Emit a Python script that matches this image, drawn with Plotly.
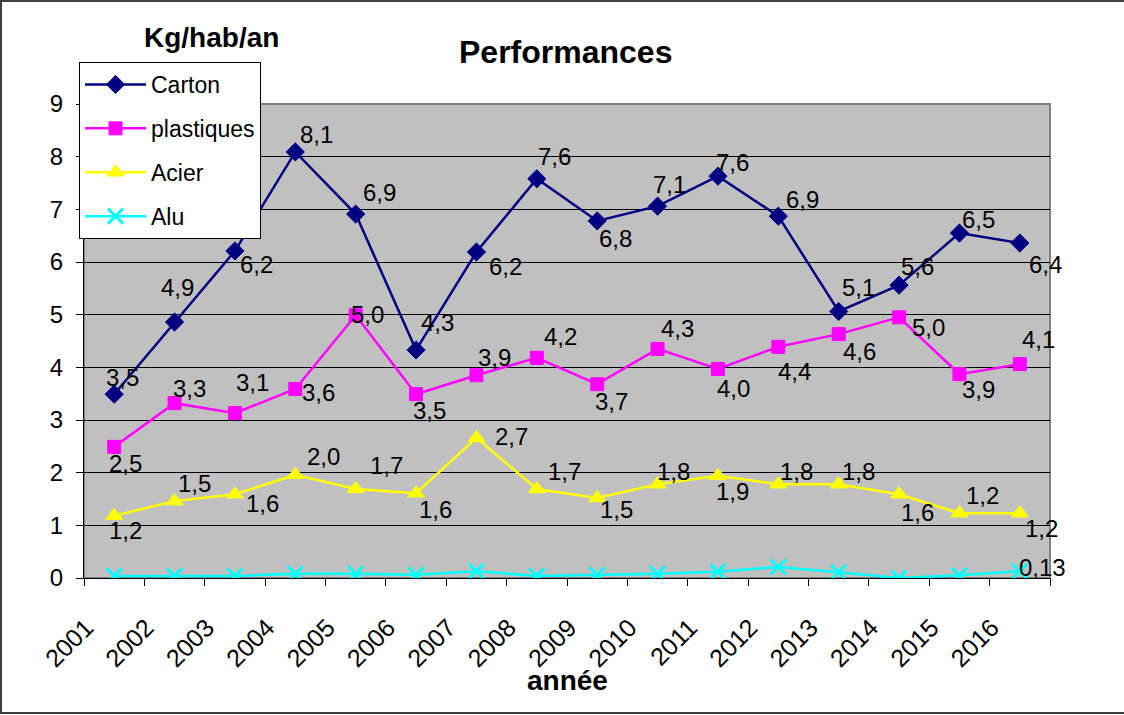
import plotly.graph_objects as go

years = [str(y) for y in range(2001, 2017)]
carton = [3.49, 4.86, 6.21, 8.09, 6.91, 4.33, 6.19, 7.58, 6.78, 7.06, 7.63, 6.87, 5.06, 5.56, 6.55, 6.36]
plastiques = [2.49, 3.32, 3.13, 3.59, 4.99, 3.49, 3.85, 4.18, 3.68, 4.35, 3.97, 4.39, 4.63, 4.95, 3.87, 4.06]
acier = [1.18, 1.46, 1.59, 1.96, 1.69, 1.61, 2.66, 1.69, 1.52, 1.78, 1.94, 1.78, 1.78, 1.59, 1.23, 1.23]
alu = [0.04, 0.04, 0.04, 0.08, 0.08, 0.06, 0.13, 0.04, 0.06, 0.08, 0.12, 0.21, 0.11, 0.0, 0.05, 0.13]

# label offsets in pixels (dx right, dy down) relative to each point
carton_off = [(8, -17), (3, -35), (22, 14), (21, -17), (24, -22), (21, -27), (29, 15), (18, -22),
              (18, 18), (12, -22), (15, -14), (24, -17), (20, -24), (18, -19), (19, -14), (26, 21)]
plast_off = [(11, 17), (15, -15), (18, -31), (23, 4), (12, -1), (13, 16), (18, -18), (24, -21),
             (14, 17), (20, -20), (16, 20), (16, 25), (21, 17), (29, 10), (19, 15), (19, -25)]
acier_off = [(11, 15), (20, -18), (28, 9), (28, -18), (31, -23), (19, 16), (35, -1), (28, -17),
             (19, 12), (16, -13), (15, 16), (18, -13), (20, -13), (18, 18), (23, -18), (22, 15)]

FONT = "Arial, Liberation Sans, sans-serif"

def fmt(v, d=1):
    return f"{v:.{d}f}".replace(".", ",")

fig = go.Figure()
series = [
    ("Carton", carton, "#000080", "diamond", 14, 1),
    ("plastiques", plastiques, "#FF00FF", "square", 13, 1),
    ("Acier", acier, "#FFFF00", "triangle-up", 15, 1),
    ("Alu", alu, "#00FFFF", "x-thin", 15, 3),
]
for name, vals, col, sym, sz, mlw in series:
    fig.add_trace(go.Scatter(
        x=years, y=vals, name=name, mode="lines+markers", legendgroup=name,
        line=dict(color=col, width=2.5),
        marker=dict(symbol=sym, size=sz, color=col, line=dict(color=col, width=mlw)),
    ))

LBL = dict(family=FONT, size=24, color="black")
annotations = []
for vals, offs in [(carton, carton_off), (plastiques, plast_off), (acier, acier_off)]:
    for i, (v, (dx, dy)) in enumerate(zip(vals, offs)):
        annotations.append(dict(x=i, y=v, xref="x", yref="y", text=fmt(v), showarrow=False,
                                xshift=dx, yshift=-dy, xanchor="center", yanchor="middle", font=LBL))
annotations.append(dict(x=len(alu) - 1, y=alu[-1], xref="x", yref="y", text=fmt(alu[-1], 2),
                        showarrow=False, xshift=23, yshift=4, xanchor="center", yanchor="middle", font=LBL))

L, R, T, B = 84, 74, 104, 137
W, H = 1124, 715
pw, ph = W - L - R, H - T - B

def px(x):
    return (x - L) / pw

def py(y):
    return (H - B - y) / ph

annotations += [
    dict(x=px(565), y=py(52), xref="paper", yref="paper", text="<b>Performances</b>", showarrow=False,
         xanchor="center", yanchor="middle", font=dict(family=FONT, size=32, color="black")),
    dict(x=px(211), y=py(37), xref="paper", yref="paper", text="<b>Kg/hab/an</b>", showarrow=False,
         xanchor="center", yanchor="middle", font=dict(family=FONT, size=28, color="black")),
    dict(x=px(567), y=py(680), xref="paper", yref="paper", text="<b>année</b>", showarrow=False,
         xanchor="center", yanchor="middle", font=dict(family=FONT, size=28, color="black")),
]

shapes = [
    dict(type="rect", xref="paper", yref="paper", x0=0, y0=0, x1=1, y1=1,
         line=dict(color="#808080", width=2), fillcolor="#C0C0C0", layer="below"),
    dict(type="rect", xref="paper", yref="paper", x0=px(1), y0=py(713), x1=px(1140), y1=py(1),
         line=dict(color="#404040", width=2), fillcolor="rgba(0,0,0,0)", layer="above"),
]

fig.update_layout(
    width=W, height=H,
    margin=dict(l=L, r=R, t=T, b=B),
    paper_bgcolor="white", plot_bgcolor="#C0C0C0",
    font=dict(family=FONT, color="black", size=22),
    showlegend=True,
    legend=dict(x=px(79), y=py(62), xanchor="left", yanchor="top", bgcolor="white",
                bordercolor="black", borderwidth=1, font=dict(family=FONT, size=23),
                tracegroupgap=11, itemwidth=61),
    annotations=annotations, shapes=shapes,
    xaxis=dict(type="category", range=[-0.5, 15.5], tickangle=-45, tickson="boundaries",
               ticks="outside", ticklen=7, tickcolor="black", showline=True, linecolor="black",
               linewidth=1, showgrid=False, tickfont=dict(family=FONT, size=25),
               ticklabelstandoff=24, ticklabelshift=-28),
    yaxis=dict(range=[0, 9], dtick=1, showgrid=True, gridcolor="black", gridwidth=1,
               ticks="outside", ticklen=7, tickcolor="black", showline=True, linecolor="black",
               linewidth=1, zeroline=False, tickfont=dict(family=FONT, size=24),
               ticklabelstandoff=8),
)

fig.write_html("out.html", config={"displayModeBar": False},
               post_script="document.body.style.margin='0';")
